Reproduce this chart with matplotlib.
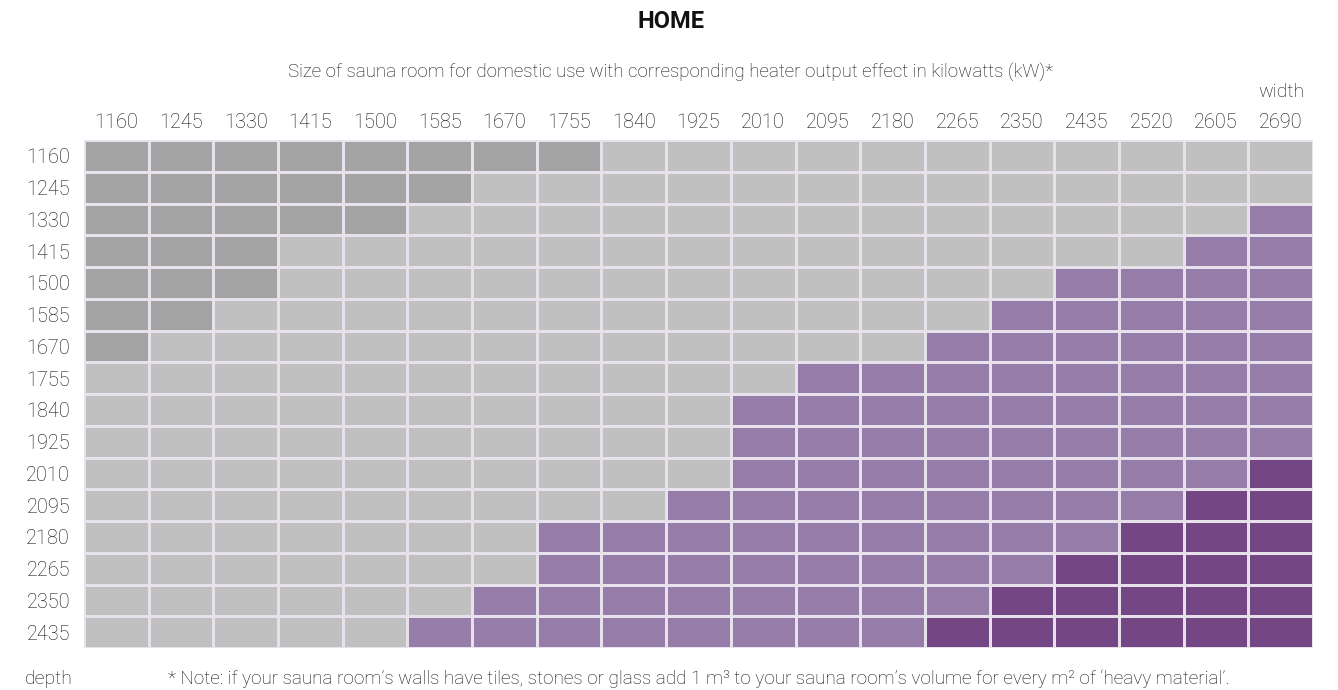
import matplotlib.pyplot as plt
import numpy as np
from matplotlib.colors import ListedColormap

plt.rcParams["font.family"] = ["Roboto", "DejaVu Sans"]

# Data
widths = [1160, 1245, 1330, 1415, 1500, 1585, 1670, 1755, 1840, 1925,
          2010, 2095, 2180, 2265, 2350, 2435, 2520, 2605, 2690]
depths = [1160, 1245, 1330, 1415, 1500, 1585, 1670, 1755,
          1840, 1925, 2010, 2095, 2180, 2265, 2350, 2435]
# D = dark grey, L = light grey, P = purple, K = dark purple
rows = [
    "DDDDDDDDLLLLLLLLLLL",
    "DDDDDDLLLLLLLLLLLLL",
    "DDDDDLLLLLLLLLLLLLP",
    "DDDLLLLLLLLLLLLLLPP",
    "DDDLLLLLLLLLLLLPPPP",
    "DDLLLLLLLLLLLLPPPPP",
    "DLLLLLLLLLLLLPPPPPP",
    "LLLLLLLLLLLPPPPPPPP",
    "LLLLLLLLLLPPPPPPPPP",
    "LLLLLLLLLLPPPPPPPPP",
    "LLLLLLLLLLPPPPPPPPK",
    "LLLLLLLLLPPPPPPPPKK",
    "LLLLLLLPPPPPPPPPKKK",
    "LLLLLLLPPPPPPPPKKKK",
    "LLLLLLPPPPPPPPKKKKK",
    "LLLLLPPPPPPPPKKKKKK",
]
codes = "DLPK"
colors = ["#a3a3a3", "#c0c0c0", "#967ca8", "#744684"]
TEXT = "#111111"

grid = np.array([[codes.index(c) for c in r] for r in rows])

fig = plt.figure(figsize=(13.38, 6.9), dpi=100)
ax = fig.add_axes([84 / 1338, 1 - 648 / 690, 1229 / 1338, 508 / 690])
ax.pcolormesh(grid, cmap=ListedColormap(colors), vmin=-0.5, vmax=3.5,
              edgecolors="#e6e1ea", linewidth=0.75)
ax.set_xlim(0, len(widths))
ax.set_ylim(len(depths), 0)
ax.set_xticks(np.arange(len(widths)) + 0.5)
ax.set_xticklabels(widths)
ax.set_yticks(np.arange(len(depths)) + 0.5)
ax.set_yticklabels(depths)
ax.xaxis.tick_top()
ax.tick_params(length=0, labelsize=14.3, colors=TEXT)
ax.tick_params(axis="x", pad=6)
ax.tick_params(axis="y", pad=10)
for lbl in ax.get_xticklabels() + ax.get_yticklabels():
    lbl.set_fontweight("light")
for s in ax.spines.values():
    s.set_visible(False)

fig.text(671 / 1338, 1 - 22 / 690, "HOME", ha="center", va="center",
         fontsize=17, fontweight="bold", color="#111111")
fig.text(671 / 1338, 1 - 72 / 690,
         "Size of sauna room for domestic use with corresponding heater output effect in kilowatts (kW)*",
         ha="center", va="center", fontsize=13.5, fontweight="light", color=TEXT)
fig.text(1281 / 1338, 1 - 92 / 690, "width", ha="center", va="center",
         fontsize=14, fontweight="light", color=TEXT)
fig.text(49 / 1338, 1 - 679 / 690, "depth", ha="center", va="center",
         fontsize=14, fontweight="light", color=TEXT)
fig.text(699 / 1338, 1 - 679 / 690,
         "* Note: if your sauna room\u2019s walls have tiles, stones or glass add 1 m\u00b3 to your sauna room\u2019s volume for every m\u00b2 of \u2018heavy material\u2019.",
         ha="center", va="center", fontsize=13.6, fontweight="light", color=TEXT)

fig.savefig("out.png", dpi=100)
